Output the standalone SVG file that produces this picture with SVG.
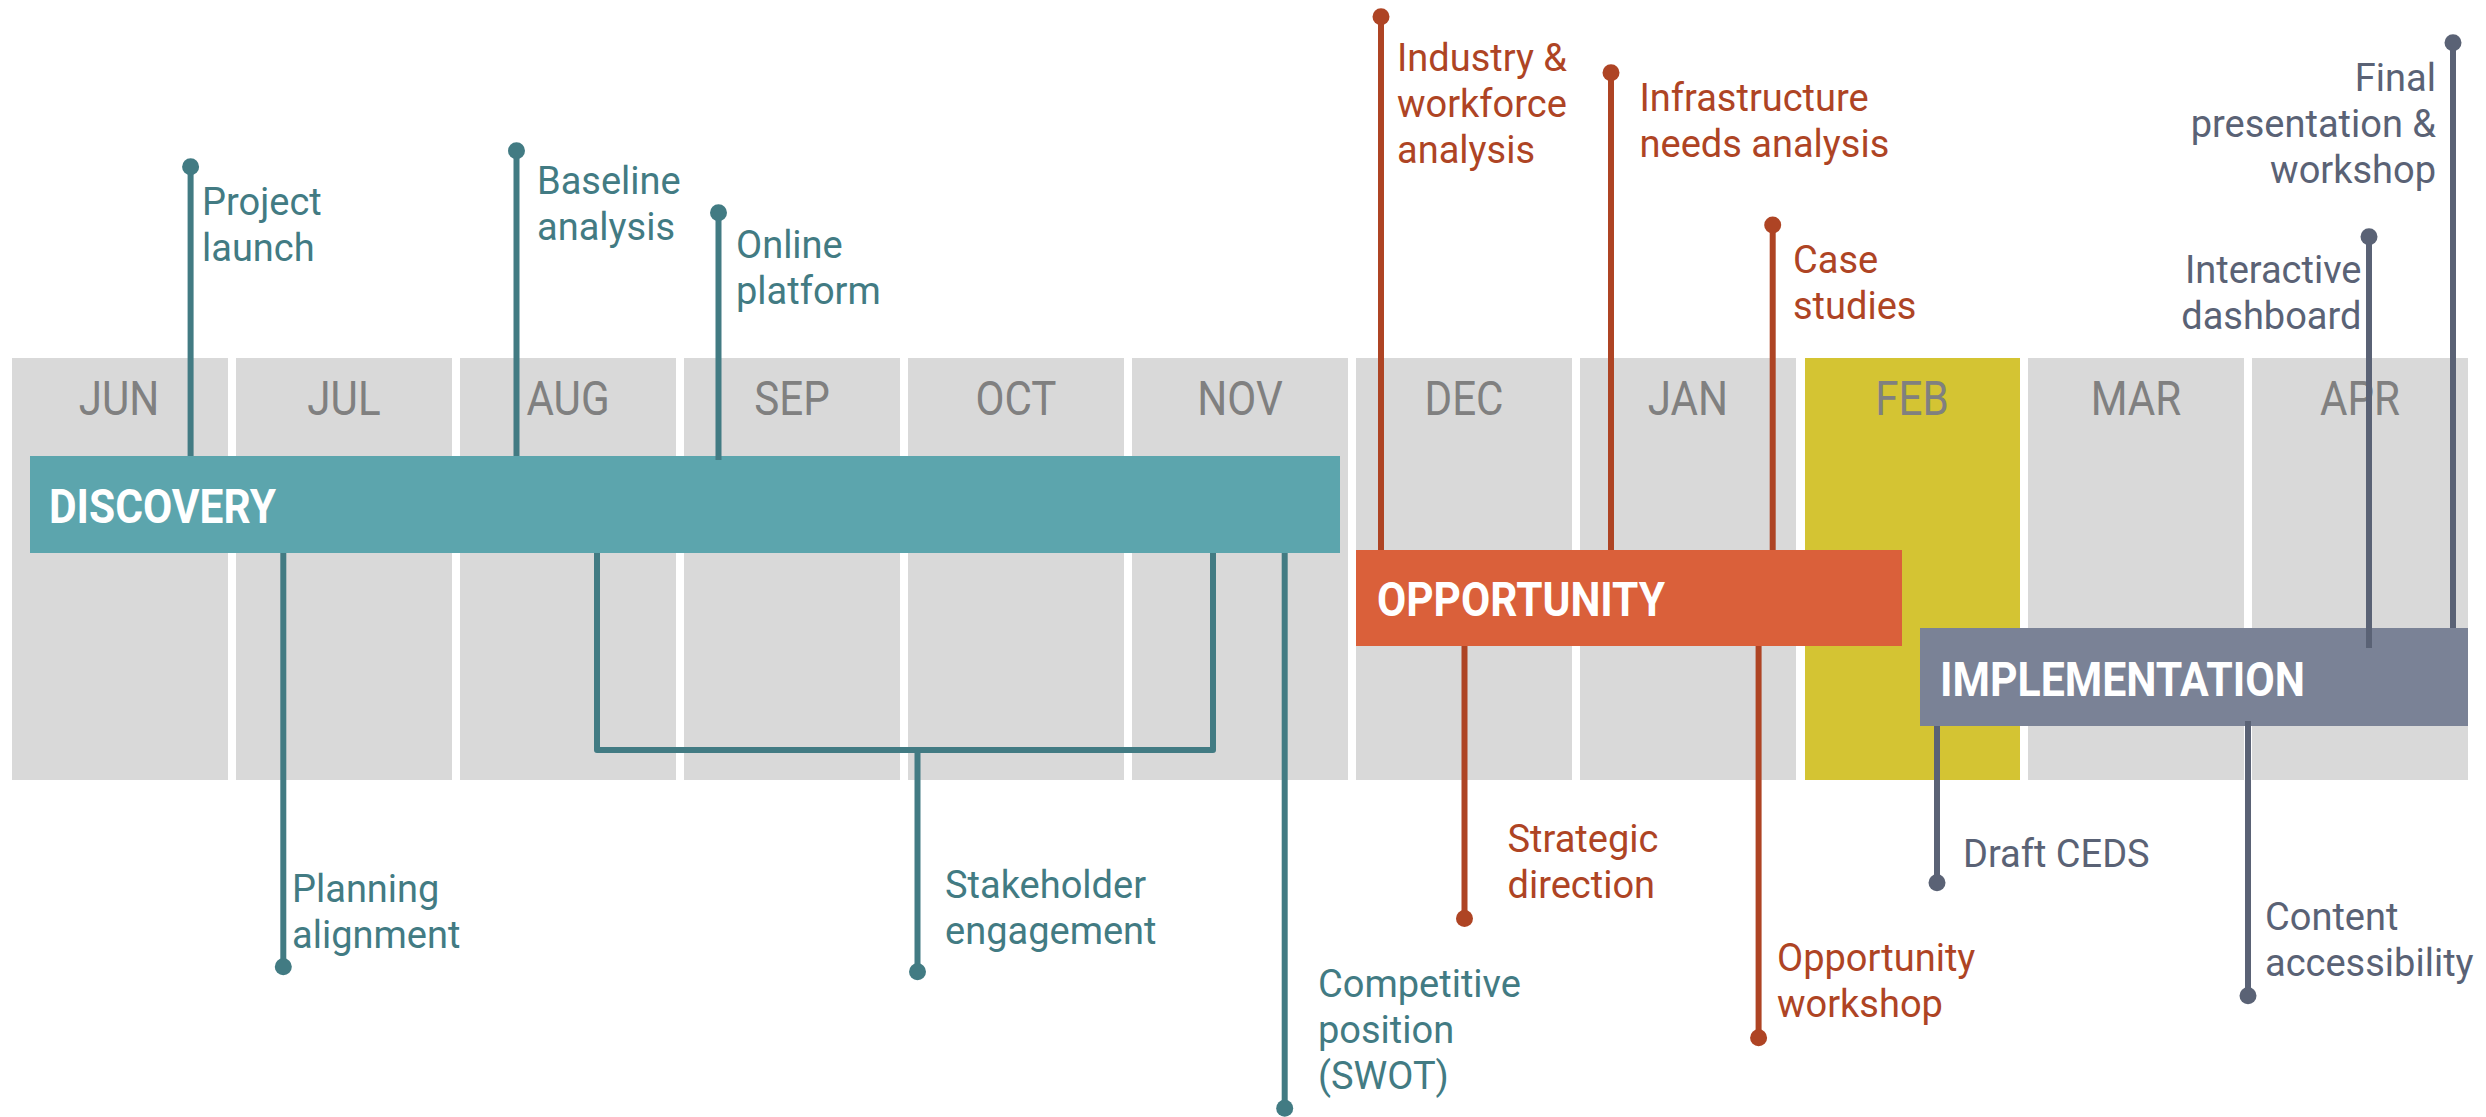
<svg xmlns="http://www.w3.org/2000/svg" width="2486" height="1117" viewBox="0 0 2486 1117">
  <style>
    .month { fill: #d9d9d9; }
    .feb { fill: #d4c433; }
    .mlabel { font-family: Roboto, "Liberation Sans", sans-serif; font-size: 49px; fill: #808080; text-anchor: middle; }
    .bar-d { fill: #5ca5ad; }
    .bar-o { fill: #da603a; }
    .bar-i { fill: #7a8296; }
    .blabel { font-family: Roboto, "Liberation Sans", sans-serif; font-size: 48px; font-weight: bold; fill: #ffffff; }
    .lbl { font-family: Roboto, "Liberation Sans", sans-serif; font-size: 38px; }
    .t { fill: #427b83; }
    .o { fill: #ae4424; }
    .g { fill: #5a6275; }
    .end { text-anchor: end; }
    .ct { stroke: #427b83; }
    .co { stroke: #ae4424; }
    .cg { stroke: #5a6275; }
    #connectors path { fill: none; stroke-width: 6; stroke-linejoin: round; }
  </style>

  <g id="months">
    <rect class="month" x="12" y="358" width="216" height="422"/>
    <rect class="month" x="236" y="358" width="216" height="422"/>
    <rect class="month" x="460" y="358" width="216" height="422"/>
    <rect class="month" x="684" y="358" width="216" height="422"/>
    <rect class="month" x="908" y="358" width="216" height="422"/>
    <rect class="month" x="1132" y="358" width="216" height="422"/>
    <rect class="month" x="1356" y="358" width="216" height="422"/>
    <rect class="month" x="1580" y="358" width="216" height="422"/>
    <rect class="feb" x="1805" y="358" width="215" height="422"/>
    <rect class="month" x="2028" y="358" width="216" height="422"/>
    <rect class="month" x="2252" y="358" width="216" height="422"/>
    <text class="mlabel" transform="translate(119,415) scale(0.86,1)">JUN</text>
    <text class="mlabel" transform="translate(344,415) scale(0.86,1)">JUL</text>
    <text class="mlabel" transform="translate(568,415) scale(0.86,1)">AUG</text>
    <text class="mlabel" transform="translate(792,415) scale(0.86,1)">SEP</text>
    <text class="mlabel" transform="translate(1016,415) scale(0.86,1)">OCT</text>
    <text class="mlabel" transform="translate(1240,415) scale(0.86,1)">NOV</text>
    <text class="mlabel" transform="translate(1464,415) scale(0.86,1)">DEC</text>
    <text class="mlabel" transform="translate(1688,415) scale(0.86,1)">JAN</text>
    <text class="mlabel" transform="translate(1912,415) scale(0.86,1)">FEB</text>
    <text class="mlabel" transform="translate(2136,415) scale(0.86,1)">MAR</text>
    <text class="mlabel" transform="translate(2360,415) scale(0.86,1)">APR</text>
  </g>

  <g id="discovery">
    <rect class="bar-d" x="30" y="456" width="1310" height="97"/>
    <text class="blabel" x="49" y="523" textLength="227" lengthAdjust="spacingAndGlyphs">DISCOVERY</text>
  </g>
  <g id="opportunity">
    <rect class="bar-o" x="1356" y="550" width="546" height="96"/>
    <text class="blabel" x="1377" y="616" textLength="288" lengthAdjust="spacingAndGlyphs">OPPORTUNITY</text>
  </g>
  <g id="implementation">
    <rect class="bar-i" x="1920" y="628" width="548" height="98"/>
    <text class="blabel" x="1940" y="696" textLength="365" lengthAdjust="spacingAndGlyphs">IMPLEMENTATION</text>
  </g>

  <g id="connectors">
    <path class="ct" d="M190.6,166.7 V456"/>
    <path class="ct" d="M516.5,150.7 V456"/>
    <path class="ct" d="M718.5,212.7 V460"/>
    <path class="co" d="M1381,16.7 V550"/>
    <path class="co" d="M1611,72.7 V550"/>
    <path class="co" d="M1772.7,225 V550"/>
    <path class="cg" d="M2453,42.7 V628"/>
    <path class="cg" d="M2369,236.7 V648"/>
    <path class="ct" d="M283.3,553 V966.7"/>
    <path class="ct" d="M597,553 V750 H1213 V553"/>
    <path class="ct" d="M917.5,750 V971.7"/>
    <path class="ct" d="M1284.7,553 V1108.3"/>
    <path class="co" d="M1464.5,646 V918.5"/>
    <path class="co" d="M1758.6,646 V1037.7"/>
    <path class="cg" d="M1937,726 V882.7"/>
    <path class="cg" d="M2248,721 V995.7"/>
  </g>

  <g id="m-project-launch">
    <circle class="t" cx="190.6" cy="166.7" r="8.5"/>
    <text class="lbl t" x="202" y="215">Project<tspan x="202" dy="46">launch</tspan></text>
  </g>
  <g id="m-baseline-analysis">
    <circle class="t" cx="516.5" cy="150.7" r="8.5"/>
    <text class="lbl t" x="537" y="194.3">Baseline<tspan x="537" dy="46">analysis</tspan></text>
  </g>
  <g id="m-online-platform">
    <circle class="t" cx="718.5" cy="212.7" r="8.5"/>
    <text class="lbl t" x="736" y="258.3">Online<tspan x="736" dy="46">platform</tspan></text>
  </g>
  <g id="m-industry">
    <circle class="o" cx="1381" cy="16.7" r="8.5"/>
    <text class="lbl o" x="1397" y="70.7">Industry &amp;<tspan x="1397" dy="46">workforce</tspan><tspan x="1397" dy="46">analysis</tspan></text>
  </g>
  <g id="m-infrastructure">
    <circle class="o" cx="1611" cy="72.7" r="8.5"/>
    <text class="lbl o" x="1639.5" y="111">Infrastructure<tspan x="1639.5" dy="46">needs analysis</tspan></text>
  </g>
  <g id="m-case-studies">
    <circle class="o" cx="1772.7" cy="225" r="8.5"/>
    <text class="lbl o" x="1793" y="273.3">Case<tspan x="1793" dy="46">studies</tspan></text>
  </g>
  <g id="m-final-presentation">
    <circle class="g" cx="2453" cy="42.7" r="8.5"/>
    <text class="lbl g end" x="2436" y="91">Final<tspan x="2436" dy="46">presentation &amp;</tspan><tspan x="2436" dy="46">workshop</tspan></text>
  </g>
  <g id="m-interactive-dashboard">
    <circle class="g" cx="2369" cy="236.7" r="8.5"/>
    <text class="lbl g end" x="2361.5" y="282.7">Interactive<tspan x="2361.5" dy="46">dashboard</tspan></text>
  </g>
  <g id="m-planning-alignment">
    <circle class="t" cx="283.3" cy="966.7" r="8.5"/>
    <text class="lbl t" x="292" y="901.7">Planning<tspan x="292" dy="46">alignment</tspan></text>
  </g>
  <g id="m-stakeholder-engagement">
    <circle class="t" cx="917.5" cy="971.7" r="8.5"/>
    <text class="lbl t" x="945" y="897.7">Stakeholder<tspan x="945" dy="46">engagement</tspan></text>
  </g>
  <g id="m-competitive-position">
    <circle class="t" cx="1284.7" cy="1108.3" r="8.5"/>
    <text class="lbl t" x="1318" y="996.7">Competitive<tspan x="1318" dy="46">position</tspan><tspan x="1318" dy="46">(SWOT)</tspan></text>
  </g>
  <g id="m-strategic-direction">
    <circle class="o" cx="1464.5" cy="918.5" r="8.5"/>
    <text class="lbl o" x="1507.5" y="851.7">Strategic<tspan x="1507.5" dy="46">direction</tspan></text>
  </g>
  <g id="m-opportunity-workshop">
    <circle class="o" cx="1758.6" cy="1037.7" r="8.5"/>
    <text class="lbl o" x="1777" y="970.7">Opportunity<tspan x="1777" dy="46">workshop</tspan></text>
  </g>
  <g id="m-draft-ceds">
    <circle class="g" cx="1937" cy="882.7" r="8.5"/>
    <text class="lbl g" x="1963" y="866.7">Draft CEDS</text>
  </g>
  <g id="m-content-accessibility">
    <circle class="g" cx="2248" cy="995.7" r="8.5"/>
    <text class="lbl g" x="2265" y="930">Content<tspan x="2265" dy="46">accessibility</tspan></text>
  </g>
</svg>
